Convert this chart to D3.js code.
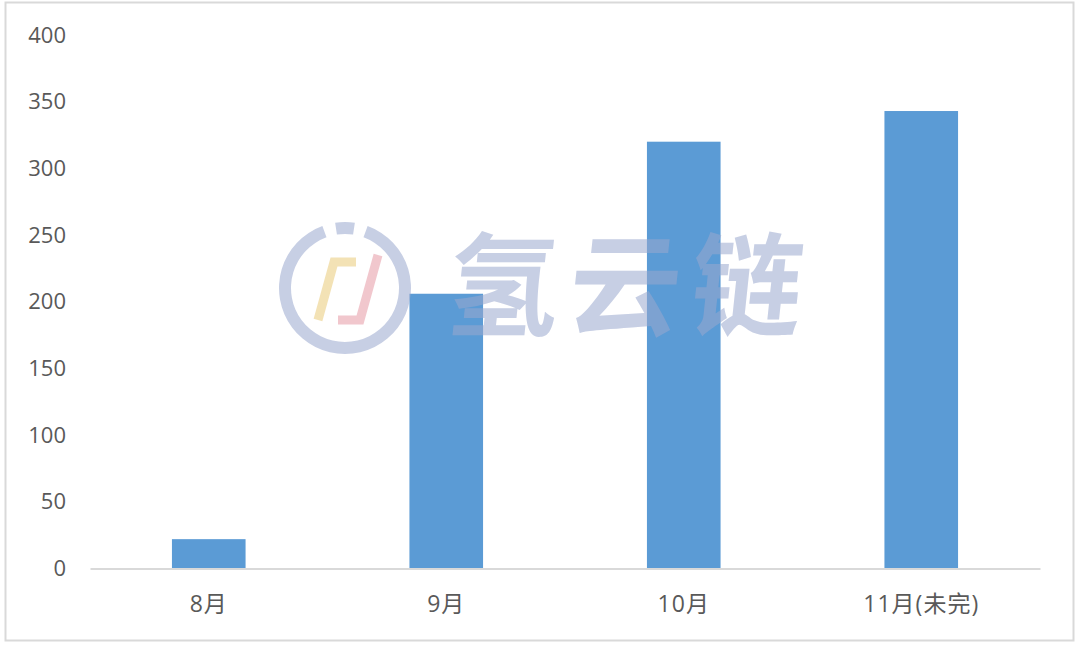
<!DOCTYPE html>
<html><head><meta charset="utf-8">
<script src="https://cdn.jsdelivr.net/npm/d3@7/dist/d3.min.js"></script>
<style>body{margin:0;background:#fff}svg{display:block}</style>
</head><body>
<svg id="c" width="1080" height="648"></svg>
<script>
const categories = ["8月", "9月", "10月", "11月(未完)"];
const values = [22, 206, 320, 343];
const yTicks = [0, 50, 100, 150, 200, 250, 300, 350, 400];

const svg = d3.select("#c");
const font = "'Open Sans', 'Noto Sans CJK SC', sans-serif";
const W = 1080, H = 648;
const m = {left: 90, right: 40, top: 35, bottom: 80};

svg.append("rect").attr("x", 5.5).attr("y", 2.5).attr("width", 1068).attr("height", 638)
  .attr("fill", "#fff").attr("stroke", "#d9d9d9").attr("stroke-width", 2);

const x = d3.scaleBand().domain(categories).range([m.left, W - m.right]).paddingInner(0.69).paddingOuter(0.345);
const y = d3.scaleLinear().domain([0, 400]).range([568.5, 35]);

// y axis labels
const ya = svg.append("g").attr("transform", `translate(${m.left},0)`)
  .call(d3.axisLeft(y).tickValues(yTicks).tickSize(0).tickPadding(24));
ya.select(".domain").remove();
ya.selectAll("text").attr("font-family", font).attr("font-size", 22).attr("fill", "#595959");

// bars
svg.append("g").selectAll("rect").data(values).join("rect")
  .attr("x", (d, i) => x(categories[i]))
  .attr("y", d => y(d))
  .attr("width", x.bandwidth())
  .attr("height", d => y(0) - y(d))
  .attr("fill", "#5b9bd5");

// x axis
const xa = svg.append("g").attr("transform", `translate(0,${y(0)})`)
  .call(d3.axisBottom(x).tickSize(0).tickPadding(27));
xa.select(".domain").attr("stroke", "#d9d9d9").attr("stroke-width", 2);
xa.selectAll("text").attr("font-family", font).attr("font-size", 23).attr("letter-spacing", 1).attr("fill", "#595959");

// watermark
const wm = svg.append("g").attr("opacity", 0.55);
const arc = d3.arc().innerRadius(54).outerRadius(66);
wm.append("path").attr("transform", "translate(345,288)")
  .attr("d", arc({startAngle: 0.35, endAngle: 2 * Math.PI - 0.35})).attr("fill", "#9aa8cf");
wm.append("path").attr("transform", "translate(345,288)")
  .attr("d", arc({startAngle: -0.15, endAngle: 0.15})).attr("fill", "#9aa8cf");
wm.append("path").attr("d", "M318 320 L334 262 L356 262").attr("fill", "none")
  .attr("stroke", "#eacb7a").attr("stroke-width", 9);
wm.append("path").attr("d", "M338 320 L360 320 L378 255").attr("fill", "none")
  .attr("stroke", "#e79aa6").attr("stroke-width", 9);
wm.append("text").attr("x", 445).attr("y", 327).text("氢云链")
  .attr("font-family", "'Noto Sans CJK SC', sans-serif").attr("font-weight", 700).attr("font-size", 112)
  .attr("fill", "#9aa8cf").attr("textLength", 355).attr("transform", "skewX(-6) translate(33,0)");
</script>
</body></html>
